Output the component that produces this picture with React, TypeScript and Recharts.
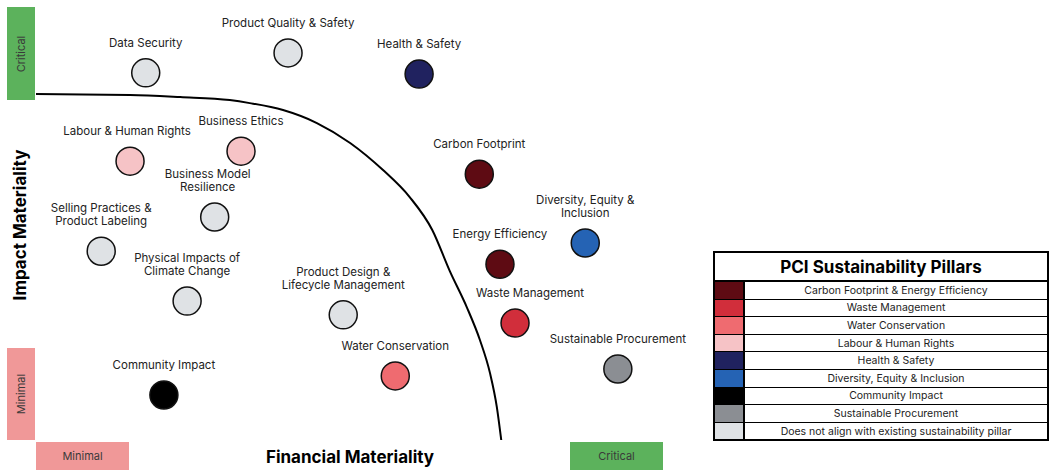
import React from "react";
import { ComposedChart, Scatter, Line, XAxis, YAxis } from "recharts";

// materiality topics (0-100 on both axes)
const topics = [
  "Data Security",
  "Product Quality & Safety",
  "Health & Safety",
  "Labour & Human Rights",
  "Business Ethics",
  "Business Model\nResilience",
  "Selling Practices &\nProduct Labeling",
  "Physical Impacts of\nClimate Change",
  "Product Design &\nLifecycle Management",
  "Community Impact",
  "Water Conservation",
  "Carbon Footprint",
  "Energy Efficiency",
  "Diversity, Equity &\nInclusion",
  "Waste Management",
  "Sustainable Procurement",
];
const financial = [17.5, 40.2, 61.1, 15.0, 32.7, 28.5, 10.4, 24.1, 49.0, 20.4, 57.3, 70.7, 74.0, 87.6, 76.4, 92.8];
const impact = [84.8, 89.4, 84.5, 64.4, 66.7, 51.5, 43.6, 32.1, 28.9, 10.4, 14.8, 61.4, 40.6, 45.5, 27.0, 16.4];
// index into pillars
const topicPillar = [8, 8, 4, 3, 3, 8, 8, 8, 8, 6, 2, 0, 0, 5, 1, 7];

const pillars = [
  "Carbon Footprint & Energy Efficiency",
  "Waste Management",
  "Water Conservation",
  "Labour & Human Rights",
  "Health & Safety",
  "Diversity, Equity & Inclusion",
  "Community Impact",
  "Sustainable Procurement",
  "Does not align with existing sustainability pillar",
];
const pillarColors = ["#5e0b13", "#d12e3b", "#ef6b70", "#f6c3c6", "#20225f", "#2563b4", "#000000", "#8b8e93", "#dfe2e5"];

// threshold curve separating critical topics
const boundaryX = [0, 15.0, 23.0, 30.9, 34.1, 39.4, 44.8, 50.1, 55.3, 59.6, 63.2, 66.0, 68.7, 70.8, 72.4, 73.5, 74.2];
const boundaryY = [79.9, 79.7, 79.2, 78.5, 77.8, 76.2, 73.2, 68.6, 62.4, 56.1, 48.5, 39.0, 30.7, 23.1, 15.5, 7.6, 0];

const FONT = "Inter, 'Open Sans', sans-serif";

const points = topics.map((name, i) => ({
  name,
  x: financial[i],
  y: impact[i],
  color: pillarColors[topicPillar[i]],
}));
const boundary = boundaryX.map((x, i) => ({ x, y: boundaryY[i] }));

// small nudges so labels sit like the original
const labelDx: Record<string, number> = {
  "Business Model\nResilience": -7,
  "Labour & Human Rights": -3,
  "Waste Management": 15,
};

const Bubble = (props: any) => {
  const { cx, cy, payload } = props;
  const lines = payload.name.split("\n");
  const dx = labelDx[payload.name] || 0;
  return (
    <g>
      <circle cx={cx} cy={cy} r={14} fill={payload.color} stroke="#111" strokeWidth={1.5} />
      {lines.map((l: string, k: number) => (
        <text
          key={k}
          x={cx + dx}
          y={cy - 29 - (lines.length - 1 - k) * 13.5}
          textAnchor="middle"
          dominantBaseline="middle"
          fontSize={11.5}
          fontFamily={FONT}
          fill="#222"
        >
          {l}
        </text>
      ))}
    </g>
  );
};

const box = (left: number, top: number, w: number, h: number, bg: string, label: string, vertical: boolean) => (
  <div
    style={{
      position: "absolute",
      left,
      top,
      width: w,
      height: h,
      background: bg,
      display: "flex",
      alignItems: "center",
      justifyContent: "center",
    }}
  >
    <span
      style={{
        fontFamily: FONT,
        fontSize: 11,
        color: "#3a3a3a",
        transform: vertical ? "rotate(-90deg)" : undefined,
        whiteSpace: "nowrap",
      }}
    >
      {label}
    </span>
  </div>
);

export default function App() {
  return (
    <div style={{ position: "absolute", left: 0, top: 0, width: 1052, height: 475, background: "#fff", overflow: "hidden" }}>
      <ComposedChart width={1052} height={475} margin={{ top: 7, right: 389, bottom: 35, left: 36 }}>
        <XAxis
          type="number"
          dataKey="x"
          domain={[0, 100]}
          tick={false}
          tickLine={false}
          height={0}
          axisLine={{ stroke: "#000", strokeWidth: 2 }}
        />
        <YAxis
          type="number"
          dataKey="y"
          domain={[0, 100]}
          tick={false}
          tickLine={false}
          width={0}
          axisLine={{ stroke: "#000", strokeWidth: 2 }}
        />
        <Line
          data={boundary}
          dataKey="y"
          type="monotone"
          stroke="#000"
          strokeWidth={2}
          dot={false}
          isAnimationActive={false}
        />
        <Scatter data={points} dataKey="y" shape={Bubble} isAnimationActive={false} />
      </ComposedChart>

      {box(7, 7, 28, 93, "#5cb25c", "Critical", true)}
      {box(7, 348, 28, 92, "#f09898", "Minimal", true)}
      {box(36, 442, 93, 28, "#f09898", "Minimal", false)}
      {box(570, 442, 93, 28, "#5cb25c", "Critical", false)}

      <div
        style={{
          position: "absolute",
          left: 20,
          top: 225,
          transform: "translate(-50%, -50%) rotate(-90deg)",
          fontFamily: FONT,
          fontWeight: 700,
          fontSize: 17,
          whiteSpace: "nowrap",
          color: "#000",
        }}
      >
        Impact Materiality
      </div>
      <div
        style={{
          position: "absolute",
          left: 350,
          top: 457,
          transform: "translate(-50%, -50%)",
          fontFamily: FONT,
          fontWeight: 700,
          fontSize: 17,
          whiteSpace: "nowrap",
          color: "#000",
        }}
      >
        Financial Materiality
      </div>

      <table
        style={{
          position: "absolute",
          left: 713,
          top: 251,
          width: 336,
          borderCollapse: "collapse",
          fontFamily: FONT,
          border: "2px solid #000",
        }}
      >
        <tbody>
          <tr>
            <td
              colSpan={2}
              style={{
                height: 27,
                padding: 0,
                textAlign: "center",
                fontWeight: 700,
                fontSize: 17,
                borderBottom: "2px solid #000",
              }}
            >
              PCI Sustainability Pillars
            </td>
          </tr>
          {pillars.map((p, i) => (
            <tr key={p}>
              <td
                style={{
                  width: 28,
                  height: 16.6,
                  padding: 0,
                  background: pillarColors[i],
                  borderBottom: i < pillars.length - 1 ? "1px solid #000" : undefined,
                  borderRight: "2px solid #000",
                }}
              />
              <td
                style={{
                  padding: 0,
                  height: 16.6,
                  textAlign: "center",
                  fontSize: 10.5,
                  color: "#222",
                  borderBottom: i < pillars.length - 1 ? "1px solid #000" : undefined,
                }}
              >
                {p}
              </td>
            </tr>
          ))}
        </tbody>
      </table>
    </div>
  );
}
